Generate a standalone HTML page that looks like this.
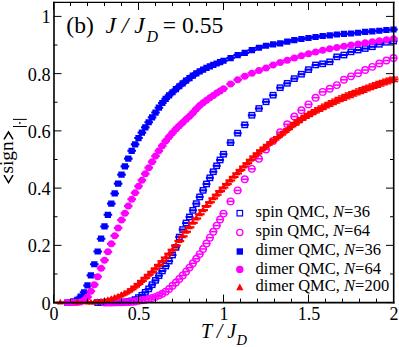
<!DOCTYPE html>
<html><head><meta charset="utf-8"><title>chart</title>
<style>html,body{margin:0;padding:0;background:#fff}svg{display:block}text{font-family:"Liberation Serif",serif;fill:#000}</style>
</head><body>
<svg width="399" height="347" viewBox="0 0 399 347">
<rect width="399" height="347" fill="#fff"/>
<g><rect x="94.95" y="299.93" width="5.5" height="5.3" fill="none" stroke="#0000ff" stroke-width="1.4"/><rect x="93.70" y="301.53" width="8" height="2.10" fill="#0000ff"/><rect x="98.35" y="299.91" width="5.5" height="5.3" fill="none" stroke="#0000ff" stroke-width="1.4"/><rect x="97.10" y="301.51" width="8" height="2.10" fill="#0000ff"/><rect x="101.75" y="299.89" width="5.5" height="5.3" fill="none" stroke="#0000ff" stroke-width="1.4"/><rect x="100.50" y="301.49" width="8" height="2.10" fill="#0000ff"/><rect x="105.15" y="299.86" width="5.5" height="5.3" fill="none" stroke="#0000ff" stroke-width="1.4"/><rect x="103.90" y="301.46" width="8" height="2.10" fill="#0000ff"/><rect x="108.55" y="299.82" width="5.5" height="5.3" fill="none" stroke="#0000ff" stroke-width="1.4"/><rect x="107.30" y="301.42" width="8" height="2.10" fill="#0000ff"/><rect x="111.95" y="299.78" width="5.5" height="5.3" fill="none" stroke="#0000ff" stroke-width="1.4"/><rect x="110.70" y="301.38" width="8" height="2.10" fill="#0000ff"/><rect x="115.35" y="299.72" width="5.5" height="5.3" fill="none" stroke="#0000ff" stroke-width="1.4"/><rect x="114.10" y="301.32" width="8" height="2.10" fill="#0000ff"/><rect x="118.75" y="299.66" width="5.5" height="5.3" fill="none" stroke="#0000ff" stroke-width="1.4"/><rect x="117.50" y="301.26" width="8" height="2.10" fill="#0000ff"/><rect x="122.15" y="299.43" width="5.5" height="5.3" fill="none" stroke="#0000ff" stroke-width="1.4"/><rect x="120.90" y="301.03" width="8" height="2.10" fill="#0000ff"/><rect x="125.55" y="298.93" width="5.5" height="5.3" fill="none" stroke="#0000ff" stroke-width="1.4"/><rect x="124.30" y="300.53" width="8" height="2.10" fill="#0000ff"/><rect x="128.95" y="298.23" width="5.5" height="5.3" fill="none" stroke="#0000ff" stroke-width="1.4"/><rect x="127.70" y="299.83" width="8" height="2.10" fill="#0000ff"/><rect x="132.35" y="296.94" width="5.5" height="5.3" fill="none" stroke="#0000ff" stroke-width="1.4"/><rect x="131.10" y="298.54" width="8" height="2.10" fill="#0000ff"/><rect x="135.75" y="294.92" width="5.5" height="5.3" fill="none" stroke="#0000ff" stroke-width="1.4"/><rect x="134.50" y="296.52" width="8" height="2.10" fill="#0000ff"/><rect x="139.15" y="292.61" width="5.5" height="5.3" fill="none" stroke="#0000ff" stroke-width="1.4"/><rect x="137.90" y="294.21" width="8" height="2.10" fill="#0000ff"/><rect x="142.55" y="289.70" width="5.5" height="5.3" fill="none" stroke="#0000ff" stroke-width="1.4"/><rect x="141.30" y="291.30" width="8" height="2.10" fill="#0000ff"/><rect x="145.95" y="286.21" width="5.5" height="5.3" fill="none" stroke="#0000ff" stroke-width="1.4"/><rect x="144.70" y="287.81" width="8" height="2.10" fill="#0000ff"/><rect x="149.35" y="282.07" width="5.5" height="5.3" fill="none" stroke="#0000ff" stroke-width="1.4"/><rect x="148.10" y="283.67" width="8" height="2.10" fill="#0000ff"/><rect x="152.75" y="277.70" width="5.5" height="5.3" fill="none" stroke="#0000ff" stroke-width="1.4"/><rect x="151.50" y="279.30" width="8" height="2.10" fill="#0000ff"/><rect x="156.15" y="273.07" width="5.5" height="5.3" fill="none" stroke="#0000ff" stroke-width="1.4"/><rect x="154.90" y="274.67" width="8" height="2.10" fill="#0000ff"/><rect x="159.55" y="268.30" width="5.5" height="5.3" fill="none" stroke="#0000ff" stroke-width="1.4"/><rect x="158.30" y="269.90" width="8" height="2.10" fill="#0000ff"/><rect x="162.95" y="263.41" width="5.5" height="5.3" fill="none" stroke="#0000ff" stroke-width="1.4"/><rect x="161.70" y="265.01" width="8" height="2.10" fill="#0000ff"/><rect x="166.35" y="258.43" width="5.5" height="5.3" fill="none" stroke="#0000ff" stroke-width="1.4"/><rect x="165.10" y="260.03" width="8" height="2.10" fill="#0000ff"/><rect x="169.75" y="252.41" width="5.5" height="5.3" fill="none" stroke="#0000ff" stroke-width="1.4"/><rect x="168.50" y="254.01" width="8" height="2.10" fill="#0000ff"/><rect x="173.15" y="244.71" width="5.5" height="5.3" fill="none" stroke="#0000ff" stroke-width="1.4"/><rect x="171.90" y="246.31" width="8" height="2.10" fill="#0000ff"/><rect x="176.55" y="234.40" width="5.5" height="5.3" fill="none" stroke="#0000ff" stroke-width="1.4"/><rect x="175.30" y="236.00" width="8" height="2.10" fill="#0000ff"/><rect x="179.95" y="226.92" width="5.5" height="5.3" fill="none" stroke="#0000ff" stroke-width="1.4"/><rect x="178.70" y="228.52" width="8" height="2.10" fill="#0000ff"/><rect x="183.35" y="220.35" width="5.5" height="5.3" fill="none" stroke="#0000ff" stroke-width="1.4"/><rect x="182.10" y="221.95" width="8" height="2.10" fill="#0000ff"/><rect x="186.75" y="214.27" width="5.5" height="5.3" fill="none" stroke="#0000ff" stroke-width="1.4"/><rect x="185.50" y="215.87" width="8" height="2.10" fill="#0000ff"/><rect x="190.15" y="207.70" width="5.5" height="5.3" fill="none" stroke="#0000ff" stroke-width="1.4"/><rect x="188.90" y="209.30" width="8" height="2.10" fill="#0000ff"/><rect x="193.55" y="200.99" width="5.5" height="5.3" fill="none" stroke="#0000ff" stroke-width="1.4"/><rect x="192.30" y="202.59" width="8" height="2.10" fill="#0000ff"/><rect x="196.95" y="194.27" width="5.5" height="5.3" fill="none" stroke="#0000ff" stroke-width="1.4"/><rect x="195.70" y="195.87" width="8" height="2.10" fill="#0000ff"/><rect x="200.35" y="187.69" width="5.5" height="5.3" fill="none" stroke="#0000ff" stroke-width="1.4"/><rect x="199.10" y="189.29" width="8" height="2.10" fill="#0000ff"/><rect x="203.75" y="181.34" width="5.5" height="5.3" fill="none" stroke="#0000ff" stroke-width="1.4"/><rect x="202.50" y="182.94" width="8" height="2.10" fill="#0000ff"/><rect x="207.15" y="175.17" width="5.5" height="5.3" fill="none" stroke="#0000ff" stroke-width="1.4"/><rect x="205.90" y="176.77" width="8" height="2.10" fill="#0000ff"/><rect x="210.55" y="169.10" width="5.5" height="5.3" fill="none" stroke="#0000ff" stroke-width="1.4"/><rect x="209.30" y="170.70" width="8" height="2.10" fill="#0000ff"/><rect x="213.95" y="163.15" width="5.5" height="5.3" fill="none" stroke="#0000ff" stroke-width="1.4"/><rect x="212.70" y="164.75" width="8" height="2.10" fill="#0000ff"/><rect x="217.35" y="157.29" width="5.5" height="5.3" fill="none" stroke="#0000ff" stroke-width="1.4"/><rect x="216.10" y="158.89" width="8" height="2.10" fill="#0000ff"/><rect x="220.75" y="151.56" width="5.5" height="5.3" fill="none" stroke="#0000ff" stroke-width="1.4"/><rect x="219.50" y="153.16" width="8" height="2.10" fill="#0000ff"/><rect x="227.83" y="139.97" width="5.5" height="5.3" fill="none" stroke="#0000ff" stroke-width="1.4"/><rect x="226.58" y="141.57" width="8" height="2.10" fill="#0000ff"/><rect x="234.92" y="130.51" width="5.5" height="5.3" fill="none" stroke="#0000ff" stroke-width="1.4"/><rect x="233.67" y="132.11" width="8" height="2.10" fill="#0000ff"/><rect x="242.00" y="122.22" width="5.5" height="5.3" fill="none" stroke="#0000ff" stroke-width="1.4"/><rect x="240.75" y="123.82" width="8" height="2.10" fill="#0000ff"/><rect x="249.08" y="112.61" width="5.5" height="5.3" fill="none" stroke="#0000ff" stroke-width="1.4"/><rect x="247.83" y="114.21" width="8" height="2.10" fill="#0000ff"/><rect x="256.17" y="105.82" width="5.5" height="5.3" fill="none" stroke="#0000ff" stroke-width="1.4"/><rect x="254.92" y="107.42" width="8" height="2.10" fill="#0000ff"/><rect x="263.25" y="99.12" width="5.5" height="5.3" fill="none" stroke="#0000ff" stroke-width="1.4"/><rect x="262.00" y="100.72" width="8" height="2.10" fill="#0000ff"/><rect x="270.33" y="92.55" width="5.5" height="5.3" fill="none" stroke="#0000ff" stroke-width="1.4"/><rect x="269.08" y="94.15" width="8" height="2.10" fill="#0000ff"/><rect x="277.42" y="85.04" width="5.5" height="5.3" fill="none" stroke="#0000ff" stroke-width="1.4"/><rect x="276.17" y="86.64" width="8" height="2.10" fill="#0000ff"/><rect x="284.50" y="80.66" width="5.5" height="5.3" fill="none" stroke="#0000ff" stroke-width="1.4"/><rect x="283.25" y="82.26" width="8" height="2.10" fill="#0000ff"/><rect x="291.58" y="75.97" width="5.5" height="5.3" fill="none" stroke="#0000ff" stroke-width="1.4"/><rect x="290.33" y="77.57" width="8" height="2.10" fill="#0000ff"/><rect x="298.67" y="71.56" width="5.5" height="5.3" fill="none" stroke="#0000ff" stroke-width="1.4"/><rect x="297.42" y="73.16" width="8" height="2.10" fill="#0000ff"/><rect x="305.75" y="66.98" width="5.5" height="5.3" fill="none" stroke="#0000ff" stroke-width="1.4"/><rect x="304.50" y="68.58" width="8" height="2.10" fill="#0000ff"/><rect x="312.83" y="62.29" width="5.5" height="5.3" fill="none" stroke="#0000ff" stroke-width="1.4"/><rect x="311.58" y="63.89" width="8" height="2.10" fill="#0000ff"/><rect x="319.92" y="61.17" width="5.5" height="5.3" fill="none" stroke="#0000ff" stroke-width="1.4"/><rect x="318.67" y="62.77" width="8" height="2.10" fill="#0000ff"/><rect x="327.00" y="59.20" width="5.5" height="5.3" fill="none" stroke="#0000ff" stroke-width="1.4"/><rect x="325.75" y="60.80" width="8" height="2.10" fill="#0000ff"/><rect x="334.08" y="54.19" width="5.5" height="5.3" fill="none" stroke="#0000ff" stroke-width="1.4"/><rect x="332.83" y="55.79" width="8" height="2.10" fill="#0000ff"/><rect x="341.17" y="52.39" width="5.5" height="5.3" fill="none" stroke="#0000ff" stroke-width="1.4"/><rect x="339.92" y="53.99" width="8" height="2.10" fill="#0000ff"/><rect x="348.25" y="49.21" width="5.5" height="5.3" fill="none" stroke="#0000ff" stroke-width="1.4"/><rect x="347.00" y="50.81" width="8" height="2.10" fill="#0000ff"/><rect x="355.33" y="47.41" width="5.5" height="5.3" fill="none" stroke="#0000ff" stroke-width="1.4"/><rect x="354.08" y="49.01" width="8" height="2.10" fill="#0000ff"/><rect x="362.42" y="45.92" width="5.5" height="5.3" fill="none" stroke="#0000ff" stroke-width="1.4"/><rect x="361.17" y="47.52" width="8" height="2.10" fill="#0000ff"/><rect x="369.50" y="44.12" width="5.5" height="5.3" fill="none" stroke="#0000ff" stroke-width="1.4"/><rect x="368.25" y="45.72" width="8" height="2.10" fill="#0000ff"/><rect x="376.58" y="41.63" width="5.5" height="5.3" fill="none" stroke="#0000ff" stroke-width="1.4"/><rect x="375.33" y="43.23" width="8" height="2.10" fill="#0000ff"/><rect x="383.67" y="39.62" width="5.5" height="5.3" fill="none" stroke="#0000ff" stroke-width="1.4"/><rect x="382.42" y="41.22" width="8" height="2.10" fill="#0000ff"/><rect x="390.75" y="38.42" width="5.5" height="5.3" fill="none" stroke="#0000ff" stroke-width="1.4"/><rect x="389.50" y="40.02" width="8" height="2.10" fill="#0000ff"/><circle cx="104.50" cy="302.52" r="3.25" fill="none" stroke="#ff00ff" stroke-width="1.4"/><rect x="100.50" y="301.72" width="8" height="1.60" fill="#ff00ff"/><circle cx="107.90" cy="302.48" r="3.25" fill="none" stroke="#ff00ff" stroke-width="1.4"/><rect x="103.90" y="301.68" width="8" height="1.60" fill="#ff00ff"/><circle cx="111.30" cy="302.44" r="3.25" fill="none" stroke="#ff00ff" stroke-width="1.4"/><rect x="107.30" y="301.64" width="8" height="1.60" fill="#ff00ff"/><circle cx="114.70" cy="302.38" r="3.25" fill="none" stroke="#ff00ff" stroke-width="1.4"/><rect x="110.70" y="301.58" width="8" height="1.60" fill="#ff00ff"/><circle cx="118.10" cy="302.32" r="3.25" fill="none" stroke="#ff00ff" stroke-width="1.4"/><rect x="114.10" y="301.52" width="8" height="1.60" fill="#ff00ff"/><circle cx="121.50" cy="302.25" r="3.25" fill="none" stroke="#ff00ff" stroke-width="1.4"/><rect x="117.50" y="301.45" width="8" height="1.60" fill="#ff00ff"/><circle cx="124.90" cy="302.17" r="3.25" fill="none" stroke="#ff00ff" stroke-width="1.4"/><rect x="120.90" y="301.37" width="8" height="1.60" fill="#ff00ff"/><circle cx="128.30" cy="302.08" r="3.25" fill="none" stroke="#ff00ff" stroke-width="1.4"/><rect x="124.30" y="301.28" width="8" height="1.60" fill="#ff00ff"/><circle cx="131.70" cy="301.92" r="3.25" fill="none" stroke="#ff00ff" stroke-width="1.4"/><rect x="127.70" y="301.12" width="8" height="1.60" fill="#ff00ff"/><circle cx="135.10" cy="301.44" r="3.25" fill="none" stroke="#ff00ff" stroke-width="1.4"/><rect x="131.10" y="300.64" width="8" height="1.60" fill="#ff00ff"/><circle cx="138.50" cy="300.82" r="3.25" fill="none" stroke="#ff00ff" stroke-width="1.4"/><rect x="134.50" y="300.02" width="8" height="1.60" fill="#ff00ff"/><circle cx="141.90" cy="300.29" r="3.25" fill="none" stroke="#ff00ff" stroke-width="1.4"/><rect x="137.90" y="299.49" width="8" height="1.60" fill="#ff00ff"/><circle cx="145.30" cy="299.70" r="3.25" fill="none" stroke="#ff00ff" stroke-width="1.4"/><rect x="141.30" y="298.90" width="8" height="1.60" fill="#ff00ff"/><circle cx="148.70" cy="298.95" r="3.25" fill="none" stroke="#ff00ff" stroke-width="1.4"/><rect x="144.70" y="298.15" width="8" height="1.60" fill="#ff00ff"/><circle cx="152.10" cy="298.02" r="3.25" fill="none" stroke="#ff00ff" stroke-width="1.4"/><rect x="148.10" y="297.22" width="8" height="1.60" fill="#ff00ff"/><circle cx="155.50" cy="296.84" r="3.25" fill="none" stroke="#ff00ff" stroke-width="1.4"/><rect x="151.50" y="296.04" width="8" height="1.60" fill="#ff00ff"/><circle cx="158.90" cy="295.41" r="3.25" fill="none" stroke="#ff00ff" stroke-width="1.4"/><rect x="154.90" y="294.61" width="8" height="1.60" fill="#ff00ff"/><circle cx="162.30" cy="293.72" r="3.25" fill="none" stroke="#ff00ff" stroke-width="1.4"/><rect x="158.30" y="292.92" width="8" height="1.60" fill="#ff00ff"/><circle cx="165.70" cy="291.67" r="3.25" fill="none" stroke="#ff00ff" stroke-width="1.4"/><rect x="161.70" y="290.87" width="8" height="1.60" fill="#ff00ff"/><circle cx="169.10" cy="289.00" r="3.25" fill="none" stroke="#ff00ff" stroke-width="1.4"/><rect x="165.10" y="288.20" width="8" height="1.60" fill="#ff00ff"/><circle cx="172.50" cy="285.79" r="3.25" fill="none" stroke="#ff00ff" stroke-width="1.4"/><rect x="168.50" y="284.99" width="8" height="1.60" fill="#ff00ff"/><circle cx="175.90" cy="282.50" r="3.25" fill="none" stroke="#ff00ff" stroke-width="1.4"/><rect x="171.90" y="281.70" width="8" height="1.60" fill="#ff00ff"/><circle cx="179.30" cy="279.02" r="3.25" fill="none" stroke="#ff00ff" stroke-width="1.4"/><rect x="175.30" y="278.22" width="8" height="1.60" fill="#ff00ff"/><circle cx="182.70" cy="275.42" r="3.25" fill="none" stroke="#ff00ff" stroke-width="1.4"/><rect x="178.70" y="274.62" width="8" height="1.60" fill="#ff00ff"/><circle cx="186.10" cy="271.64" r="3.25" fill="none" stroke="#ff00ff" stroke-width="1.4"/><rect x="182.10" y="270.84" width="8" height="1.60" fill="#ff00ff"/><circle cx="189.50" cy="267.59" r="3.25" fill="none" stroke="#ff00ff" stroke-width="1.4"/><rect x="185.50" y="266.79" width="8" height="1.60" fill="#ff00ff"/><circle cx="192.90" cy="263.26" r="3.25" fill="none" stroke="#ff00ff" stroke-width="1.4"/><rect x="188.90" y="262.46" width="8" height="1.60" fill="#ff00ff"/><circle cx="196.30" cy="258.77" r="3.25" fill="none" stroke="#ff00ff" stroke-width="1.4"/><rect x="192.30" y="257.97" width="8" height="1.60" fill="#ff00ff"/><circle cx="199.70" cy="254.10" r="3.25" fill="none" stroke="#ff00ff" stroke-width="1.4"/><rect x="195.70" y="253.30" width="8" height="1.60" fill="#ff00ff"/><circle cx="203.10" cy="248.98" r="3.25" fill="none" stroke="#ff00ff" stroke-width="1.4"/><rect x="199.10" y="248.18" width="8" height="1.60" fill="#ff00ff"/><circle cx="206.50" cy="243.47" r="3.25" fill="none" stroke="#ff00ff" stroke-width="1.4"/><rect x="202.50" y="242.67" width="8" height="1.60" fill="#ff00ff"/><circle cx="209.90" cy="237.67" r="3.25" fill="none" stroke="#ff00ff" stroke-width="1.4"/><rect x="205.90" y="236.87" width="8" height="1.60" fill="#ff00ff"/><circle cx="213.30" cy="231.68" r="3.25" fill="none" stroke="#ff00ff" stroke-width="1.4"/><rect x="209.30" y="230.88" width="8" height="1.60" fill="#ff00ff"/><circle cx="216.70" cy="225.60" r="3.25" fill="none" stroke="#ff00ff" stroke-width="1.4"/><rect x="212.70" y="224.80" width="8" height="1.60" fill="#ff00ff"/><circle cx="220.10" cy="219.54" r="3.25" fill="none" stroke="#ff00ff" stroke-width="1.4"/><rect x="216.10" y="218.74" width="8" height="1.60" fill="#ff00ff"/><circle cx="223.50" cy="213.59" r="3.25" fill="none" stroke="#ff00ff" stroke-width="1.4"/><rect x="219.50" y="212.79" width="8" height="1.60" fill="#ff00ff"/><circle cx="230.58" cy="201.38" r="3.25" fill="none" stroke="#ff00ff" stroke-width="1.4"/><rect x="226.58" y="200.58" width="8" height="1.60" fill="#ff00ff"/><circle cx="237.67" cy="190.40" r="3.25" fill="none" stroke="#ff00ff" stroke-width="1.4"/><rect x="233.67" y="189.60" width="8" height="1.60" fill="#ff00ff"/><circle cx="244.75" cy="179.25" r="3.25" fill="none" stroke="#ff00ff" stroke-width="1.4"/><rect x="240.75" y="178.45" width="8" height="1.60" fill="#ff00ff"/><circle cx="251.83" cy="168.85" r="3.25" fill="none" stroke="#ff00ff" stroke-width="1.4"/><rect x="247.83" y="168.05" width="8" height="1.60" fill="#ff00ff"/><circle cx="258.92" cy="158.80" r="3.25" fill="none" stroke="#ff00ff" stroke-width="1.4"/><rect x="254.92" y="158.00" width="8" height="1.60" fill="#ff00ff"/><circle cx="266.00" cy="149.48" r="3.25" fill="none" stroke="#ff00ff" stroke-width="1.4"/><rect x="262.00" y="148.68" width="8" height="1.60" fill="#ff00ff"/><circle cx="273.08" cy="140.90" r="3.25" fill="none" stroke="#ff00ff" stroke-width="1.4"/><rect x="269.08" y="140.10" width="8" height="1.60" fill="#ff00ff"/><circle cx="280.17" cy="132.30" r="3.25" fill="none" stroke="#ff00ff" stroke-width="1.4"/><rect x="276.17" y="131.50" width="8" height="1.60" fill="#ff00ff"/><circle cx="287.25" cy="124.30" r="3.25" fill="none" stroke="#ff00ff" stroke-width="1.4"/><rect x="283.25" y="123.50" width="8" height="1.60" fill="#ff00ff"/><circle cx="294.33" cy="116.46" r="3.25" fill="none" stroke="#ff00ff" stroke-width="1.4"/><rect x="290.33" y="115.66" width="8" height="1.60" fill="#ff00ff"/><circle cx="301.42" cy="110.27" r="3.25" fill="none" stroke="#ff00ff" stroke-width="1.4"/><rect x="297.42" y="109.47" width="8" height="1.60" fill="#ff00ff"/><circle cx="308.50" cy="104.38" r="3.25" fill="none" stroke="#ff00ff" stroke-width="1.4"/><rect x="304.50" y="103.58" width="8" height="1.60" fill="#ff00ff"/><circle cx="315.58" cy="97.69" r="3.25" fill="none" stroke="#ff00ff" stroke-width="1.4"/><rect x="311.58" y="96.89" width="8" height="1.60" fill="#ff00ff"/><circle cx="322.67" cy="91.90" r="3.25" fill="none" stroke="#ff00ff" stroke-width="1.4"/><rect x="318.67" y="91.10" width="8" height="1.60" fill="#ff00ff"/><circle cx="329.75" cy="88.81" r="3.25" fill="none" stroke="#ff00ff" stroke-width="1.4"/><rect x="325.75" y="88.01" width="8" height="1.60" fill="#ff00ff"/><circle cx="336.83" cy="85.09" r="3.25" fill="none" stroke="#ff00ff" stroke-width="1.4"/><rect x="332.83" y="84.29" width="8" height="1.60" fill="#ff00ff"/><circle cx="343.92" cy="79.82" r="3.25" fill="none" stroke="#ff00ff" stroke-width="1.4"/><rect x="339.92" y="79.02" width="8" height="1.60" fill="#ff00ff"/><circle cx="351.00" cy="76.33" r="3.25" fill="none" stroke="#ff00ff" stroke-width="1.4"/><rect x="347.00" y="75.53" width="8" height="1.60" fill="#ff00ff"/><circle cx="358.08" cy="73.13" r="3.25" fill="none" stroke="#ff00ff" stroke-width="1.4"/><rect x="354.08" y="72.33" width="8" height="1.60" fill="#ff00ff"/><circle cx="365.17" cy="70.03" r="3.25" fill="none" stroke="#ff00ff" stroke-width="1.4"/><rect x="361.17" y="69.23" width="8" height="1.60" fill="#ff00ff"/><circle cx="372.25" cy="66.83" r="3.25" fill="none" stroke="#ff00ff" stroke-width="1.4"/><rect x="368.25" y="66.03" width="8" height="1.60" fill="#ff00ff"/><circle cx="379.33" cy="63.54" r="3.25" fill="none" stroke="#ff00ff" stroke-width="1.4"/><rect x="375.33" y="62.74" width="8" height="1.60" fill="#ff00ff"/><circle cx="386.42" cy="60.53" r="3.25" fill="none" stroke="#ff00ff" stroke-width="1.4"/><rect x="382.42" y="59.73" width="8" height="1.60" fill="#ff00ff"/><circle cx="393.50" cy="58.04" r="3.25" fill="none" stroke="#ff00ff" stroke-width="1.4"/><rect x="389.50" y="57.24" width="8" height="1.60" fill="#ff00ff"/><path fill="#0000ff" d="M63.95 299.50h6.3v2.05h1.15v2.1h-1.15v2.05h-6.3v-2.05h-1.15v-2.1h1.15z"/><path fill="#0000ff" d="M67.35 299.21h6.3v2.05h1.15v2.1h-1.15v2.05h-6.3v-2.05h-1.15v-2.1h1.15z"/><path fill="#0000ff" d="M70.75 298.36h6.3v2.05h1.15v2.1h-1.15v2.05h-6.3v-2.05h-1.15v-2.1h1.15z"/><path fill="#0000ff" d="M74.15 296.64h6.3v2.05h1.15v2.1h-1.15v2.05h-6.3v-2.05h-1.15v-2.1h1.15z"/><path fill="#0000ff" d="M77.55 293.49h6.3v2.05h1.15v2.1h-1.15v2.05h-6.3v-2.05h-1.15v-2.1h1.15z"/><path fill="#0000ff" d="M80.95 289.20h6.3v2.05h1.15v2.1h-1.15v2.05h-6.3v-2.05h-1.15v-2.1h1.15z"/><path fill="#0000ff" d="M84.35 282.33h6.3v2.05h1.15v2.1h-1.15v2.05h-6.3v-2.05h-1.15v-2.1h1.15z"/><path fill="#0000ff" d="M87.75 272.31h6.3v2.05h1.15v2.1h-1.15v2.05h-6.3v-2.05h-1.15v-2.1h1.15z"/><path fill="#0000ff" d="M91.15 261.15h6.3v2.05h1.15v2.1h-1.15v2.05h-6.3v-2.05h-1.15v-2.1h1.15z"/><path fill="#0000ff" d="M94.55 248.38h6.3v2.05h1.15v2.1h-1.15v2.05h-6.3v-2.05h-1.15v-2.1h1.15z"/><path fill="#0000ff" d="M97.95 235.59h6.3v2.05h1.15v2.1h-1.15v2.05h-6.3v-2.05h-1.15v-2.1h1.15z"/><path fill="#0000ff" d="M101.35 223.37h6.3v2.05h1.15v2.1h-1.15v2.05h-6.3v-2.05h-1.15v-2.1h1.15z"/><path fill="#0000ff" d="M104.75 211.72h6.3v2.05h1.15v2.1h-1.15v2.05h-6.3v-2.05h-1.15v-2.1h1.15z"/><path fill="#0000ff" d="M108.15 200.53h6.3v2.05h1.15v2.1h-1.15v2.05h-6.3v-2.05h-1.15v-2.1h1.15z"/><path fill="#0000ff" d="M111.55 190.34h6.3v2.05h1.15v2.1h-1.15v2.05h-6.3v-2.05h-1.15v-2.1h1.15z"/><path fill="#0000ff" d="M114.95 180.56h6.3v2.05h1.15v2.1h-1.15v2.05h-6.3v-2.05h-1.15v-2.1h1.15z"/><path fill="#0000ff" d="M118.35 171.48h6.3v2.05h1.15v2.1h-1.15v2.05h-6.3v-2.05h-1.15v-2.1h1.15z"/><path fill="#0000ff" d="M121.75 163.27h6.3v2.05h1.15v2.1h-1.15v2.05h-6.3v-2.05h-1.15v-2.1h1.15z"/><path fill="#0000ff" d="M125.15 155.51h6.3v2.05h1.15v2.1h-1.15v2.05h-6.3v-2.05h-1.15v-2.1h1.15z"/><path fill="#0000ff" d="M128.55 147.70h6.3v2.05h1.15v2.1h-1.15v2.05h-6.3v-2.05h-1.15v-2.1h1.15z"/><path fill="#0000ff" d="M131.95 141.23h6.3v2.05h1.15v2.1h-1.15v2.05h-6.3v-2.05h-1.15v-2.1h1.15z"/><path fill="#0000ff" d="M135.35 134.94h6.3v2.05h1.15v2.1h-1.15v2.05h-6.3v-2.05h-1.15v-2.1h1.15z"/><path fill="#0000ff" d="M138.75 129.53h6.3v2.05h1.15v2.1h-1.15v2.05h-6.3v-2.05h-1.15v-2.1h1.15z"/><path fill="#0000ff" d="M142.15 124.23h6.3v2.05h1.15v2.1h-1.15v2.05h-6.3v-2.05h-1.15v-2.1h1.15z"/><path fill="#0000ff" d="M145.55 119.17h6.3v2.05h1.15v2.1h-1.15v2.05h-6.3v-2.05h-1.15v-2.1h1.15z"/><path fill="#0000ff" d="M148.95 114.27h6.3v2.05h1.15v2.1h-1.15v2.05h-6.3v-2.05h-1.15v-2.1h1.15z"/><path fill="#0000ff" d="M152.35 109.46h6.3v2.05h1.15v2.1h-1.15v2.05h-6.3v-2.05h-1.15v-2.1h1.15z"/><path fill="#0000ff" d="M155.75 104.61h6.3v2.05h1.15v2.1h-1.15v2.05h-6.3v-2.05h-1.15v-2.1h1.15z"/><path fill="#0000ff" d="M159.15 99.88h6.3v2.05h1.15v2.1h-1.15v2.05h-6.3v-2.05h-1.15v-2.1h1.15z"/><path fill="#0000ff" d="M162.55 95.78h6.3v2.05h1.15v2.1h-1.15v2.05h-6.3v-2.05h-1.15v-2.1h1.15z"/><path fill="#0000ff" d="M165.95 92.31h6.3v2.05h1.15v2.1h-1.15v2.05h-6.3v-2.05h-1.15v-2.1h1.15z"/><path fill="#0000ff" d="M169.35 89.16h6.3v2.05h1.15v2.1h-1.15v2.05h-6.3v-2.05h-1.15v-2.1h1.15z"/><path fill="#0000ff" d="M172.75 86.11h6.3v2.05h1.15v2.1h-1.15v2.05h-6.3v-2.05h-1.15v-2.1h1.15z"/><path fill="#0000ff" d="M176.15 83.13h6.3v2.05h1.15v2.1h-1.15v2.05h-6.3v-2.05h-1.15v-2.1h1.15z"/><path fill="#0000ff" d="M179.55 80.27h6.3v2.05h1.15v2.1h-1.15v2.05h-6.3v-2.05h-1.15v-2.1h1.15z"/><path fill="#0000ff" d="M182.95 77.56h6.3v2.05h1.15v2.1h-1.15v2.05h-6.3v-2.05h-1.15v-2.1h1.15z"/><path fill="#0000ff" d="M186.35 74.96h6.3v2.05h1.15v2.1h-1.15v2.05h-6.3v-2.05h-1.15v-2.1h1.15z"/><path fill="#0000ff" d="M189.75 72.49h6.3v2.05h1.15v2.1h-1.15v2.05h-6.3v-2.05h-1.15v-2.1h1.15z"/><path fill="#0000ff" d="M193.15 70.25h6.3v2.05h1.15v2.1h-1.15v2.05h-6.3v-2.05h-1.15v-2.1h1.15z"/><path fill="#0000ff" d="M196.55 68.28h6.3v2.05h1.15v2.1h-1.15v2.05h-6.3v-2.05h-1.15v-2.1h1.15z"/><path fill="#0000ff" d="M199.95 66.48h6.3v2.05h1.15v2.1h-1.15v2.05h-6.3v-2.05h-1.15v-2.1h1.15z"/><path fill="#0000ff" d="M203.35 64.82h6.3v2.05h1.15v2.1h-1.15v2.05h-6.3v-2.05h-1.15v-2.1h1.15z"/><path fill="#0000ff" d="M206.75 63.26h6.3v2.05h1.15v2.1h-1.15v2.05h-6.3v-2.05h-1.15v-2.1h1.15z"/><path fill="#0000ff" d="M210.15 61.79h6.3v2.05h1.15v2.1h-1.15v2.05h-6.3v-2.05h-1.15v-2.1h1.15z"/><path fill="#0000ff" d="M213.55 60.38h6.3v2.05h1.15v2.1h-1.15v2.05h-6.3v-2.05h-1.15v-2.1h1.15z"/><path fill="#0000ff" d="M216.95 59.01h6.3v2.05h1.15v2.1h-1.15v2.05h-6.3v-2.05h-1.15v-2.1h1.15z"/><path fill="#0000ff" d="M220.35 57.66h6.3v2.05h1.15v2.1h-1.15v2.05h-6.3v-2.05h-1.15v-2.1h1.15z"/><path fill="#0000ff" d="M227.43 54.94h6.3v2.05h1.15v2.1h-1.15v2.05h-6.3v-2.05h-1.15v-2.1h1.15z"/><path fill="#0000ff" d="M234.52 52.03h6.3v2.05h1.15v2.1h-1.15v2.05h-6.3v-2.05h-1.15v-2.1h1.15z"/><path fill="#0000ff" d="M241.60 49.85h6.3v2.05h1.15v2.1h-1.15v2.05h-6.3v-2.05h-1.15v-2.1h1.15z"/><path fill="#0000ff" d="M248.68 47.09h6.3v2.05h1.15v2.1h-1.15v2.05h-6.3v-2.05h-1.15v-2.1h1.15z"/><path fill="#0000ff" d="M255.77 44.64h6.3v2.05h1.15v2.1h-1.15v2.05h-6.3v-2.05h-1.15v-2.1h1.15z"/><path fill="#0000ff" d="M262.85 42.64h6.3v2.05h1.15v2.1h-1.15v2.05h-6.3v-2.05h-1.15v-2.1h1.15z"/><path fill="#0000ff" d="M269.93 41.35h6.3v2.05h1.15v2.1h-1.15v2.05h-6.3v-2.05h-1.15v-2.1h1.15z"/><path fill="#0000ff" d="M277.02 40.19h6.3v2.05h1.15v2.1h-1.15v2.05h-6.3v-2.05h-1.15v-2.1h1.15z"/><path fill="#0000ff" d="M284.10 38.60h6.3v2.05h1.15v2.1h-1.15v2.05h-6.3v-2.05h-1.15v-2.1h1.15z"/><path fill="#0000ff" d="M291.18 37.06h6.3v2.05h1.15v2.1h-1.15v2.05h-6.3v-2.05h-1.15v-2.1h1.15z"/><path fill="#0000ff" d="M298.27 35.88h6.3v2.05h1.15v2.1h-1.15v2.05h-6.3v-2.05h-1.15v-2.1h1.15z"/><path fill="#0000ff" d="M305.35 34.88h6.3v2.05h1.15v2.1h-1.15v2.05h-6.3v-2.05h-1.15v-2.1h1.15z"/><path fill="#0000ff" d="M312.43 33.88h6.3v2.05h1.15v2.1h-1.15v2.05h-6.3v-2.05h-1.15v-2.1h1.15z"/><path fill="#0000ff" d="M319.52 32.88h6.3v2.05h1.15v2.1h-1.15v2.05h-6.3v-2.05h-1.15v-2.1h1.15z"/><path fill="#0000ff" d="M326.60 32.19h6.3v2.05h1.15v2.1h-1.15v2.05h-6.3v-2.05h-1.15v-2.1h1.15z"/><path fill="#0000ff" d="M333.68 31.39h6.3v2.05h1.15v2.1h-1.15v2.05h-6.3v-2.05h-1.15v-2.1h1.15z"/><path fill="#0000ff" d="M340.77 30.87h6.3v2.05h1.15v2.1h-1.15v2.05h-6.3v-2.05h-1.15v-2.1h1.15z"/><path fill="#0000ff" d="M347.85 30.39h6.3v2.05h1.15v2.1h-1.15v2.05h-6.3v-2.05h-1.15v-2.1h1.15z"/><path fill="#0000ff" d="M354.93 29.67h6.3v2.05h1.15v2.1h-1.15v2.05h-6.3v-2.05h-1.15v-2.1h1.15z"/><path fill="#0000ff" d="M362.02 28.87h6.3v2.05h1.15v2.1h-1.15v2.05h-6.3v-2.05h-1.15v-2.1h1.15z"/><path fill="#0000ff" d="M369.10 28.18h6.3v2.05h1.15v2.1h-1.15v2.05h-6.3v-2.05h-1.15v-2.1h1.15z"/><path fill="#0000ff" d="M376.18 27.64h6.3v2.05h1.15v2.1h-1.15v2.05h-6.3v-2.05h-1.15v-2.1h1.15z"/><path fill="#0000ff" d="M383.27 26.89h6.3v2.05h1.15v2.1h-1.15v2.05h-6.3v-2.05h-1.15v-2.1h1.15z"/><path fill="#0000ff" d="M390.35 26.38h6.3v2.05h1.15v2.1h-1.15v2.05h-6.3v-2.05h-1.15v-2.1h1.15z"/><circle cx="67.10" cy="302.60" r="3.5" fill="#ff00ff"/><rect x="62.80" y="301.50" width="8.6" height="2.2" fill="#ff00ff"/><circle cx="70.50" cy="302.60" r="3.5" fill="#ff00ff"/><rect x="66.20" y="301.50" width="8.6" height="2.2" fill="#ff00ff"/><circle cx="73.90" cy="302.60" r="3.5" fill="#ff00ff"/><rect x="69.60" y="301.50" width="8.6" height="2.2" fill="#ff00ff"/><circle cx="77.30" cy="302.45" r="3.5" fill="#ff00ff"/><rect x="73.00" y="301.35" width="8.6" height="2.2" fill="#ff00ff"/><circle cx="80.70" cy="302.03" r="3.5" fill="#ff00ff"/><rect x="76.40" y="300.93" width="8.6" height="2.2" fill="#ff00ff"/><circle cx="84.10" cy="300.31" r="3.5" fill="#ff00ff"/><rect x="79.80" y="299.21" width="8.6" height="2.2" fill="#ff00ff"/><circle cx="87.50" cy="296.90" r="3.5" fill="#ff00ff"/><rect x="83.20" y="295.80" width="8.6" height="2.2" fill="#ff00ff"/><circle cx="90.90" cy="291.21" r="3.5" fill="#ff00ff"/><rect x="86.60" y="290.11" width="8.6" height="2.2" fill="#ff00ff"/><circle cx="94.30" cy="284.63" r="3.5" fill="#ff00ff"/><rect x="90.00" y="283.53" width="8.6" height="2.2" fill="#ff00ff"/><circle cx="97.70" cy="276.64" r="3.5" fill="#ff00ff"/><rect x="93.40" y="275.54" width="8.6" height="2.2" fill="#ff00ff"/><circle cx="101.10" cy="268.34" r="3.5" fill="#ff00ff"/><rect x="96.80" y="267.24" width="8.6" height="2.2" fill="#ff00ff"/><circle cx="104.50" cy="260.16" r="3.5" fill="#ff00ff"/><rect x="100.20" y="259.06" width="8.6" height="2.2" fill="#ff00ff"/><circle cx="107.90" cy="251.86" r="3.5" fill="#ff00ff"/><rect x="103.60" y="250.76" width="8.6" height="2.2" fill="#ff00ff"/><circle cx="111.30" cy="243.87" r="3.5" fill="#ff00ff"/><rect x="107.00" y="242.77" width="8.6" height="2.2" fill="#ff00ff"/><circle cx="114.70" cy="235.69" r="3.5" fill="#ff00ff"/><rect x="110.40" y="234.59" width="8.6" height="2.2" fill="#ff00ff"/><circle cx="118.10" cy="227.90" r="3.5" fill="#ff00ff"/><rect x="113.80" y="226.80" width="8.6" height="2.2" fill="#ff00ff"/><circle cx="121.50" cy="220.03" r="3.5" fill="#ff00ff"/><rect x="117.20" y="218.93" width="8.6" height="2.2" fill="#ff00ff"/><circle cx="124.90" cy="213.31" r="3.5" fill="#ff00ff"/><rect x="120.60" y="212.21" width="8.6" height="2.2" fill="#ff00ff"/><circle cx="128.30" cy="206.04" r="3.5" fill="#ff00ff"/><rect x="124.00" y="204.94" width="8.6" height="2.2" fill="#ff00ff"/><circle cx="131.70" cy="199.14" r="3.5" fill="#ff00ff"/><rect x="127.40" y="198.04" width="8.6" height="2.2" fill="#ff00ff"/><circle cx="135.10" cy="192.76" r="3.5" fill="#ff00ff"/><rect x="130.80" y="191.66" width="8.6" height="2.2" fill="#ff00ff"/><circle cx="138.50" cy="186.26" r="3.5" fill="#ff00ff"/><rect x="134.20" y="185.16" width="8.6" height="2.2" fill="#ff00ff"/><circle cx="141.90" cy="180.28" r="3.5" fill="#ff00ff"/><rect x="137.60" y="179.18" width="8.6" height="2.2" fill="#ff00ff"/><circle cx="145.30" cy="173.78" r="3.5" fill="#ff00ff"/><rect x="141.00" y="172.68" width="8.6" height="2.2" fill="#ff00ff"/><circle cx="148.70" cy="167.67" r="3.5" fill="#ff00ff"/><rect x="144.40" y="166.57" width="8.6" height="2.2" fill="#ff00ff"/><circle cx="152.10" cy="161.74" r="3.5" fill="#ff00ff"/><rect x="147.80" y="160.64" width="8.6" height="2.2" fill="#ff00ff"/><circle cx="155.50" cy="156.06" r="3.5" fill="#ff00ff"/><rect x="151.20" y="154.96" width="8.6" height="2.2" fill="#ff00ff"/><circle cx="158.90" cy="150.73" r="3.5" fill="#ff00ff"/><rect x="154.60" y="149.63" width="8.6" height="2.2" fill="#ff00ff"/><circle cx="162.30" cy="145.74" r="3.5" fill="#ff00ff"/><rect x="158.00" y="144.64" width="8.6" height="2.2" fill="#ff00ff"/><circle cx="165.70" cy="141.05" r="3.5" fill="#ff00ff"/><rect x="161.40" y="139.95" width="8.6" height="2.2" fill="#ff00ff"/><circle cx="169.10" cy="136.71" r="3.5" fill="#ff00ff"/><rect x="164.80" y="135.61" width="8.6" height="2.2" fill="#ff00ff"/><circle cx="172.50" cy="132.76" r="3.5" fill="#ff00ff"/><rect x="168.20" y="131.66" width="8.6" height="2.2" fill="#ff00ff"/><circle cx="175.90" cy="129.12" r="3.5" fill="#ff00ff"/><rect x="171.60" y="128.02" width="8.6" height="2.2" fill="#ff00ff"/><circle cx="179.30" cy="125.68" r="3.5" fill="#ff00ff"/><rect x="175.00" y="124.58" width="8.6" height="2.2" fill="#ff00ff"/><circle cx="182.70" cy="122.39" r="3.5" fill="#ff00ff"/><rect x="178.40" y="121.29" width="8.6" height="2.2" fill="#ff00ff"/><circle cx="186.10" cy="119.31" r="3.5" fill="#ff00ff"/><rect x="181.80" y="118.21" width="8.6" height="2.2" fill="#ff00ff"/><circle cx="189.50" cy="116.20" r="3.5" fill="#ff00ff"/><rect x="185.20" y="115.10" width="8.6" height="2.2" fill="#ff00ff"/><circle cx="192.90" cy="112.75" r="3.5" fill="#ff00ff"/><rect x="188.60" y="111.65" width="8.6" height="2.2" fill="#ff00ff"/><circle cx="196.30" cy="108.98" r="3.5" fill="#ff00ff"/><rect x="192.00" y="107.88" width="8.6" height="2.2" fill="#ff00ff"/><circle cx="199.70" cy="105.53" r="3.5" fill="#ff00ff"/><rect x="195.40" y="104.43" width="8.6" height="2.2" fill="#ff00ff"/><circle cx="203.10" cy="102.70" r="3.5" fill="#ff00ff"/><rect x="198.80" y="101.60" width="8.6" height="2.2" fill="#ff00ff"/><circle cx="206.50" cy="100.16" r="3.5" fill="#ff00ff"/><rect x="202.20" y="99.06" width="8.6" height="2.2" fill="#ff00ff"/><circle cx="209.90" cy="97.77" r="3.5" fill="#ff00ff"/><rect x="205.60" y="96.67" width="8.6" height="2.2" fill="#ff00ff"/><circle cx="213.30" cy="95.40" r="3.5" fill="#ff00ff"/><rect x="209.00" y="94.30" width="8.6" height="2.2" fill="#ff00ff"/><circle cx="216.70" cy="93.12" r="3.5" fill="#ff00ff"/><rect x="212.40" y="92.02" width="8.6" height="2.2" fill="#ff00ff"/><circle cx="220.10" cy="90.91" r="3.5" fill="#ff00ff"/><rect x="215.80" y="89.81" width="8.6" height="2.2" fill="#ff00ff"/><circle cx="223.50" cy="88.67" r="3.5" fill="#ff00ff"/><rect x="219.20" y="87.57" width="8.6" height="2.2" fill="#ff00ff"/><circle cx="230.58" cy="83.95" r="3.5" fill="#ff00ff"/><rect x="226.28" y="82.85" width="8.6" height="2.2" fill="#ff00ff"/><circle cx="237.67" cy="79.79" r="3.5" fill="#ff00ff"/><rect x="233.37" y="78.69" width="8.6" height="2.2" fill="#ff00ff"/><circle cx="244.75" cy="76.22" r="3.5" fill="#ff00ff"/><rect x="240.45" y="75.12" width="8.6" height="2.2" fill="#ff00ff"/><circle cx="251.83" cy="73.21" r="3.5" fill="#ff00ff"/><rect x="247.53" y="72.11" width="8.6" height="2.2" fill="#ff00ff"/><circle cx="258.92" cy="70.52" r="3.5" fill="#ff00ff"/><rect x="254.62" y="69.42" width="8.6" height="2.2" fill="#ff00ff"/><circle cx="266.00" cy="68.03" r="3.5" fill="#ff00ff"/><rect x="261.70" y="66.93" width="8.6" height="2.2" fill="#ff00ff"/><circle cx="273.08" cy="65.06" r="3.5" fill="#ff00ff"/><rect x="268.78" y="63.96" width="8.6" height="2.2" fill="#ff00ff"/><circle cx="280.17" cy="62.53" r="3.5" fill="#ff00ff"/><rect x="275.87" y="61.43" width="8.6" height="2.2" fill="#ff00ff"/><circle cx="287.25" cy="60.25" r="3.5" fill="#ff00ff"/><rect x="282.95" y="59.15" width="8.6" height="2.2" fill="#ff00ff"/><circle cx="294.33" cy="58.04" r="3.5" fill="#ff00ff"/><rect x="290.03" y="56.94" width="8.6" height="2.2" fill="#ff00ff"/><circle cx="301.42" cy="55.75" r="3.5" fill="#ff00ff"/><rect x="297.12" y="54.65" width="8.6" height="2.2" fill="#ff00ff"/><circle cx="308.50" cy="53.75" r="3.5" fill="#ff00ff"/><rect x="304.20" y="52.65" width="8.6" height="2.2" fill="#ff00ff"/><circle cx="315.58" cy="52.00" r="3.5" fill="#ff00ff"/><rect x="311.28" y="50.90" width="8.6" height="2.2" fill="#ff00ff"/><circle cx="322.67" cy="50.26" r="3.5" fill="#ff00ff"/><rect x="318.37" y="49.16" width="8.6" height="2.2" fill="#ff00ff"/><circle cx="329.75" cy="48.74" r="3.5" fill="#ff00ff"/><rect x="325.45" y="47.64" width="8.6" height="2.2" fill="#ff00ff"/><circle cx="336.83" cy="47.45" r="3.5" fill="#ff00ff"/><rect x="332.53" y="46.35" width="8.6" height="2.2" fill="#ff00ff"/><circle cx="343.92" cy="46.25" r="3.5" fill="#ff00ff"/><rect x="339.62" y="45.15" width="8.6" height="2.2" fill="#ff00ff"/><circle cx="351.00" cy="44.96" r="3.5" fill="#ff00ff"/><rect x="346.70" y="43.86" width="8.6" height="2.2" fill="#ff00ff"/><circle cx="358.08" cy="43.96" r="3.5" fill="#ff00ff"/><rect x="353.78" y="42.86" width="8.6" height="2.2" fill="#ff00ff"/><circle cx="365.17" cy="42.76" r="3.5" fill="#ff00ff"/><rect x="360.87" y="41.66" width="8.6" height="2.2" fill="#ff00ff"/><circle cx="372.25" cy="41.76" r="3.5" fill="#ff00ff"/><rect x="367.95" y="40.66" width="8.6" height="2.2" fill="#ff00ff"/><circle cx="379.33" cy="40.76" r="3.5" fill="#ff00ff"/><rect x="375.03" y="39.66" width="8.6" height="2.2" fill="#ff00ff"/><circle cx="386.42" cy="39.75" r="3.5" fill="#ff00ff"/><rect x="382.12" y="38.65" width="8.6" height="2.2" fill="#ff00ff"/><circle cx="393.50" cy="38.78" r="3.5" fill="#ff00ff"/><rect x="389.20" y="37.68" width="8.6" height="2.2" fill="#ff00ff"/><path fill="#ff0000" d="M60.30 298.70L63.70 304.60H56.90z"/><rect x="55.40" y="301.50" width="9.8" height="2.2" fill="#ff0000"/><path fill="#ff0000" d="M77.30 298.70L80.70 304.60H73.90z"/><rect x="72.40" y="301.50" width="9.8" height="2.2" fill="#ff0000"/><path fill="#ff0000" d="M87.50 298.70L90.90 304.60H84.10z"/><rect x="82.60" y="301.50" width="9.8" height="2.2" fill="#ff0000"/><path fill="#ff0000" d="M90.90 298.64L94.30 304.54H87.50z"/><rect x="86.00" y="301.44" width="9.8" height="2.2" fill="#ff0000"/><path fill="#ff0000" d="M94.30 298.50L97.70 304.40H90.90z"/><rect x="89.40" y="301.30" width="9.8" height="2.2" fill="#ff0000"/><path fill="#ff0000" d="M97.70 298.27L101.10 304.17H94.30z"/><rect x="92.80" y="301.07" width="9.8" height="2.2" fill="#ff0000"/><path fill="#ff0000" d="M101.10 297.74L104.50 303.64H97.70z"/><rect x="96.20" y="300.54" width="9.8" height="2.2" fill="#ff0000"/><path fill="#ff0000" d="M104.50 297.06L107.90 302.96H101.10z"/><rect x="99.60" y="299.86" width="9.8" height="2.2" fill="#ff0000"/><path fill="#ff0000" d="M107.90 296.22L111.30 302.12H104.50z"/><rect x="103.00" y="299.02" width="9.8" height="2.2" fill="#ff0000"/><path fill="#ff0000" d="M111.30 295.17L114.70 301.07H107.90z"/><rect x="106.40" y="297.97" width="9.8" height="2.2" fill="#ff0000"/><path fill="#ff0000" d="M114.70 294.01L118.10 299.91H111.30z"/><rect x="109.80" y="296.81" width="9.8" height="2.2" fill="#ff0000"/><path fill="#ff0000" d="M118.10 292.75L121.50 298.65H114.70z"/><rect x="113.20" y="295.55" width="9.8" height="2.2" fill="#ff0000"/><path fill="#ff0000" d="M121.50 291.33L124.90 297.23H118.10z"/><rect x="116.60" y="294.13" width="9.8" height="2.2" fill="#ff0000"/><path fill="#ff0000" d="M124.90 289.69L128.30 295.59H121.50z"/><rect x="120.00" y="292.49" width="9.8" height="2.2" fill="#ff0000"/><path fill="#ff0000" d="M128.30 287.72L131.70 293.62H124.90z"/><rect x="123.40" y="290.52" width="9.8" height="2.2" fill="#ff0000"/><path fill="#ff0000" d="M131.70 285.35L135.10 291.25H128.30z"/><rect x="126.80" y="288.15" width="9.8" height="2.2" fill="#ff0000"/><path fill="#ff0000" d="M135.10 282.76L138.50 288.66H131.70z"/><rect x="130.20" y="285.56" width="9.8" height="2.2" fill="#ff0000"/><path fill="#ff0000" d="M138.50 280.02L141.90 285.92H135.10z"/><rect x="133.60" y="282.82" width="9.8" height="2.2" fill="#ff0000"/><path fill="#ff0000" d="M141.90 277.02L145.30 282.92H138.50z"/><rect x="137.00" y="279.82" width="9.8" height="2.2" fill="#ff0000"/><path fill="#ff0000" d="M145.30 273.93L148.70 279.83H141.90z"/><rect x="140.40" y="276.73" width="9.8" height="2.2" fill="#ff0000"/><path fill="#ff0000" d="M148.70 270.92L152.10 276.82H145.30z"/><rect x="143.80" y="273.72" width="9.8" height="2.2" fill="#ff0000"/><path fill="#ff0000" d="M152.10 267.86L155.50 273.76H148.70z"/><rect x="147.20" y="270.66" width="9.8" height="2.2" fill="#ff0000"/><path fill="#ff0000" d="M155.50 264.53L158.90 270.43H152.10z"/><rect x="150.60" y="267.33" width="9.8" height="2.2" fill="#ff0000"/><path fill="#ff0000" d="M158.90 260.98L162.30 266.88H155.50z"/><rect x="154.00" y="263.78" width="9.8" height="2.2" fill="#ff0000"/><path fill="#ff0000" d="M162.30 257.33L165.70 263.23H158.90z"/><rect x="157.40" y="260.13" width="9.8" height="2.2" fill="#ff0000"/><path fill="#ff0000" d="M165.70 253.63L169.10 259.53H162.30z"/><rect x="160.80" y="256.43" width="9.8" height="2.2" fill="#ff0000"/><path fill="#ff0000" d="M169.10 249.85L172.50 255.75H165.70z"/><rect x="164.20" y="252.65" width="9.8" height="2.2" fill="#ff0000"/><path fill="#ff0000" d="M172.50 245.89L175.90 251.79H169.10z"/><rect x="167.60" y="248.69" width="9.8" height="2.2" fill="#ff0000"/><path fill="#ff0000" d="M175.90 241.68L179.30 247.58H172.50z"/><rect x="171.00" y="244.48" width="9.8" height="2.2" fill="#ff0000"/><path fill="#ff0000" d="M179.30 237.12L182.70 243.02H175.90z"/><rect x="174.40" y="239.92" width="9.8" height="2.2" fill="#ff0000"/><path fill="#ff0000" d="M182.70 232.43L186.10 238.33H179.30z"/><rect x="177.80" y="235.23" width="9.8" height="2.2" fill="#ff0000"/><path fill="#ff0000" d="M186.10 227.86L189.50 233.76H182.70z"/><rect x="181.20" y="230.66" width="9.8" height="2.2" fill="#ff0000"/><path fill="#ff0000" d="M189.50 223.38L192.90 229.28H186.10z"/><rect x="184.60" y="226.18" width="9.8" height="2.2" fill="#ff0000"/><path fill="#ff0000" d="M192.90 218.95L196.30 224.85H189.50z"/><rect x="188.00" y="221.75" width="9.8" height="2.2" fill="#ff0000"/><path fill="#ff0000" d="M196.30 214.59L199.70 220.49H192.90z"/><rect x="191.40" y="217.39" width="9.8" height="2.2" fill="#ff0000"/><path fill="#ff0000" d="M199.70 210.36L203.10 216.26H196.30z"/><rect x="194.80" y="213.16" width="9.8" height="2.2" fill="#ff0000"/><path fill="#ff0000" d="M203.10 206.24L206.50 212.14H199.70z"/><rect x="198.20" y="209.04" width="9.8" height="2.2" fill="#ff0000"/><path fill="#ff0000" d="M206.50 202.20L209.90 208.10H203.10z"/><rect x="201.60" y="205.00" width="9.8" height="2.2" fill="#ff0000"/><path fill="#ff0000" d="M209.90 198.28L213.30 204.18H206.50z"/><rect x="205.00" y="201.08" width="9.8" height="2.2" fill="#ff0000"/><path fill="#ff0000" d="M213.30 194.47L216.70 200.37H209.90z"/><rect x="208.40" y="197.27" width="9.8" height="2.2" fill="#ff0000"/><path fill="#ff0000" d="M216.70 190.79L220.10 196.69H213.30z"/><rect x="211.80" y="193.59" width="9.8" height="2.2" fill="#ff0000"/><path fill="#ff0000" d="M220.10 187.20L223.50 193.10H216.70z"/><rect x="215.20" y="190.00" width="9.8" height="2.2" fill="#ff0000"/><path fill="#ff0000" d="M223.50 183.66L226.90 189.56H220.10z"/><rect x="218.60" y="186.46" width="9.8" height="2.2" fill="#ff0000"/><path fill="#ff0000" d="M226.90 180.10L230.30 186.00H223.50z"/><rect x="222.00" y="182.90" width="9.8" height="2.2" fill="#ff0000"/><path fill="#ff0000" d="M230.30 176.52L233.70 182.42H226.90z"/><rect x="225.40" y="179.32" width="9.8" height="2.2" fill="#ff0000"/><path fill="#ff0000" d="M233.70 172.96L237.10 178.86H230.30z"/><rect x="228.80" y="175.76" width="9.8" height="2.2" fill="#ff0000"/><path fill="#ff0000" d="M237.10 169.47L240.50 175.37H233.70z"/><rect x="232.20" y="172.27" width="9.8" height="2.2" fill="#ff0000"/><path fill="#ff0000" d="M240.50 166.04L243.90 171.94H237.10z"/><rect x="235.60" y="168.84" width="9.8" height="2.2" fill="#ff0000"/><path fill="#ff0000" d="M243.90 162.66L247.30 168.56H240.50z"/><rect x="239.00" y="165.46" width="9.8" height="2.2" fill="#ff0000"/><path fill="#ff0000" d="M247.30 159.29L250.70 165.19H243.90z"/><rect x="242.40" y="162.09" width="9.8" height="2.2" fill="#ff0000"/><path fill="#ff0000" d="M250.70 155.91L254.10 161.81H247.30z"/><rect x="245.80" y="158.71" width="9.8" height="2.2" fill="#ff0000"/><path fill="#ff0000" d="M254.10 152.58L257.50 158.48H250.70z"/><rect x="249.20" y="155.38" width="9.8" height="2.2" fill="#ff0000"/><path fill="#ff0000" d="M257.50 149.41L260.90 155.31H254.10z"/><rect x="252.60" y="152.21" width="9.8" height="2.2" fill="#ff0000"/><path fill="#ff0000" d="M260.90 146.44L264.30 152.34H257.50z"/><rect x="256.00" y="149.24" width="9.8" height="2.2" fill="#ff0000"/><path fill="#ff0000" d="M264.30 143.64L267.70 149.54H260.90z"/><rect x="259.40" y="146.44" width="9.8" height="2.2" fill="#ff0000"/><path fill="#ff0000" d="M267.70 140.94L271.10 146.84H264.30z"/><rect x="262.80" y="143.74" width="9.8" height="2.2" fill="#ff0000"/><path fill="#ff0000" d="M271.10 138.31L274.50 144.21H267.70z"/><rect x="266.20" y="141.11" width="9.8" height="2.2" fill="#ff0000"/><path fill="#ff0000" d="M274.50 135.77L277.90 141.67H271.10z"/><rect x="269.60" y="138.57" width="9.8" height="2.2" fill="#ff0000"/><path fill="#ff0000" d="M277.90 133.24L281.30 139.14H274.50z"/><rect x="273.00" y="136.04" width="9.8" height="2.2" fill="#ff0000"/><path fill="#ff0000" d="M281.30 130.65L284.70 136.55H277.90z"/><rect x="276.40" y="133.45" width="9.8" height="2.2" fill="#ff0000"/><path fill="#ff0000" d="M284.70 127.95L288.10 133.85H281.30z"/><rect x="279.80" y="130.75" width="9.8" height="2.2" fill="#ff0000"/><path fill="#ff0000" d="M288.10 125.18L291.50 131.08H284.70z"/><rect x="283.20" y="127.98" width="9.8" height="2.2" fill="#ff0000"/><path fill="#ff0000" d="M291.50 122.44L294.90 128.34H288.10z"/><rect x="286.60" y="125.24" width="9.8" height="2.2" fill="#ff0000"/><path fill="#ff0000" d="M294.90 119.79L298.30 125.69H291.50z"/><rect x="290.00" y="122.59" width="9.8" height="2.2" fill="#ff0000"/><path d="M290.30 122.38h9.2M290.30 125.00h9.2M294.90 122.38v2.62" stroke="#ff0000" stroke-width="1.3" fill="none"/><path fill="#ff0000" d="M298.30 117.32L301.70 123.22H294.90z"/><rect x="293.40" y="120.12" width="9.8" height="2.2" fill="#ff0000"/><path d="M293.70 119.85h9.2M293.70 122.59h9.2M298.30 119.85v2.74" stroke="#ff0000" stroke-width="1.3" fill="none"/><path fill="#ff0000" d="M301.70 115.08L305.10 120.98H298.30z"/><rect x="296.80" y="117.88" width="9.8" height="2.2" fill="#ff0000"/><path d="M297.10 117.55h9.2M297.10 120.41h9.2M301.70 117.55v2.86" stroke="#ff0000" stroke-width="1.3" fill="none"/><path fill="#ff0000" d="M305.10 113.01L308.50 118.91H301.70z"/><rect x="300.20" y="115.81" width="9.8" height="2.2" fill="#ff0000"/><path d="M300.50 115.42h9.2M300.50 118.40h9.2M305.10 115.42v2.98" stroke="#ff0000" stroke-width="1.3" fill="none"/><path fill="#ff0000" d="M308.50 111.06L311.90 116.96H305.10z"/><rect x="303.60" y="113.86" width="9.8" height="2.2" fill="#ff0000"/><path d="M303.90 113.41h9.2M303.90 116.51h9.2M308.50 113.41v3.10" stroke="#ff0000" stroke-width="1.3" fill="none"/><path fill="#ff0000" d="M311.90 109.19L315.30 115.09H308.50z"/><rect x="307.00" y="111.99" width="9.8" height="2.2" fill="#ff0000"/><path d="M307.30 111.48h9.2M307.30 114.70h9.2M311.90 111.48v3.22" stroke="#ff0000" stroke-width="1.3" fill="none"/><path fill="#ff0000" d="M315.30 107.38L318.70 113.28H311.90z"/><rect x="310.40" y="110.18" width="9.8" height="2.2" fill="#ff0000"/><path d="M310.70 109.61h9.2M310.70 112.95h9.2M315.30 109.61v3.34" stroke="#ff0000" stroke-width="1.3" fill="none"/><path fill="#ff0000" d="M318.70 105.60L322.10 111.50H315.30z"/><rect x="313.80" y="108.40" width="9.8" height="2.2" fill="#ff0000"/><path d="M314.10 107.77h9.2M314.10 111.23h9.2M318.70 107.77v3.46" stroke="#ff0000" stroke-width="1.3" fill="none"/><path fill="#ff0000" d="M322.10 103.85L325.50 109.75H318.70z"/><rect x="317.20" y="106.65" width="9.8" height="2.2" fill="#ff0000"/><path d="M317.50 105.96h9.2M317.50 109.54h9.2M322.10 105.96v3.58" stroke="#ff0000" stroke-width="1.3" fill="none"/><path fill="#ff0000" d="M325.50 102.13L328.90 108.03H322.10z"/><rect x="320.60" y="104.93" width="9.8" height="2.2" fill="#ff0000"/><path d="M320.90 104.18h9.2M320.90 107.88h9.2M325.50 104.18v3.70" stroke="#ff0000" stroke-width="1.3" fill="none"/><path fill="#ff0000" d="M328.90 100.46L332.30 106.36H325.50z"/><rect x="324.00" y="103.26" width="9.8" height="2.2" fill="#ff0000"/><path d="M324.30 102.45h9.2M324.30 106.27h9.2M328.90 102.45v3.82" stroke="#ff0000" stroke-width="1.3" fill="none"/><path fill="#ff0000" d="M332.30 98.83L335.70 104.73H328.90z"/><rect x="327.40" y="101.63" width="9.8" height="2.2" fill="#ff0000"/><path d="M327.70 100.76h9.2M327.70 104.70h9.2M332.30 100.76v3.94" stroke="#ff0000" stroke-width="1.3" fill="none"/><path fill="#ff0000" d="M335.70 97.24L339.10 103.14H332.30z"/><rect x="330.80" y="100.04" width="9.8" height="2.2" fill="#ff0000"/><path d="M331.10 99.11h9.2M331.10 103.17h9.2M335.70 99.11v4.06" stroke="#ff0000" stroke-width="1.3" fill="none"/><path fill="#ff0000" d="M339.10 95.71L342.50 101.61H335.70z"/><rect x="334.20" y="98.51" width="9.8" height="2.2" fill="#ff0000"/><path d="M334.50 97.52h9.2M334.50 101.70h9.2M339.10 97.52v4.18" stroke="#ff0000" stroke-width="1.3" fill="none"/><path fill="#ff0000" d="M342.50 94.22L345.90 100.12H339.10z"/><rect x="337.60" y="97.02" width="9.8" height="2.2" fill="#ff0000"/><path d="M337.90 95.97h9.2M337.90 100.27h9.2M342.50 95.97v4.30" stroke="#ff0000" stroke-width="1.3" fill="none"/><path fill="#ff0000" d="M345.90 92.79L349.30 98.69H342.50z"/><rect x="341.00" y="95.59" width="9.8" height="2.2" fill="#ff0000"/><path d="M341.30 94.48h9.2M341.30 98.90h9.2M345.90 94.48v4.42" stroke="#ff0000" stroke-width="1.3" fill="none"/><path fill="#ff0000" d="M349.30 91.39L352.70 97.29H345.90z"/><rect x="344.40" y="94.19" width="9.8" height="2.2" fill="#ff0000"/><path d="M344.70 93.02h9.2M344.70 97.56h9.2M349.30 93.02v4.54" stroke="#ff0000" stroke-width="1.3" fill="none"/><path fill="#ff0000" d="M352.70 90.02L356.10 95.92H349.30z"/><rect x="347.80" y="92.82" width="9.8" height="2.2" fill="#ff0000"/><path d="M348.10 91.62h9.2M348.10 96.22h9.2M352.70 91.62v4.60" stroke="#ff0000" stroke-width="1.3" fill="none"/><path fill="#ff0000" d="M356.10 88.68L359.50 94.58H352.70z"/><rect x="351.20" y="91.48" width="9.8" height="2.2" fill="#ff0000"/><path d="M351.50 90.28h9.2M351.50 94.88h9.2M356.10 90.28v4.60" stroke="#ff0000" stroke-width="1.3" fill="none"/><path fill="#ff0000" d="M359.50 87.35L362.90 93.25H356.10z"/><rect x="354.60" y="90.15" width="9.8" height="2.2" fill="#ff0000"/><path d="M354.90 88.95h9.2M354.90 93.55h9.2M359.50 88.95v4.60" stroke="#ff0000" stroke-width="1.3" fill="none"/><path fill="#ff0000" d="M362.90 86.04L366.30 91.94H359.50z"/><rect x="358.00" y="88.84" width="9.8" height="2.2" fill="#ff0000"/><path d="M358.30 87.64h9.2M358.30 92.24h9.2M362.90 87.64v4.60" stroke="#ff0000" stroke-width="1.3" fill="none"/><path fill="#ff0000" d="M366.30 84.76L369.70 90.66H362.90z"/><rect x="361.40" y="87.56" width="9.8" height="2.2" fill="#ff0000"/><path d="M361.70 86.36h9.2M361.70 90.96h9.2M366.30 86.36v4.60" stroke="#ff0000" stroke-width="1.3" fill="none"/><path fill="#ff0000" d="M369.70 83.49L373.10 89.39H366.30z"/><rect x="364.80" y="86.29" width="9.8" height="2.2" fill="#ff0000"/><path d="M365.10 85.09h9.2M365.10 89.69h9.2M369.70 85.09v4.60" stroke="#ff0000" stroke-width="1.3" fill="none"/><path fill="#ff0000" d="M373.10 82.26L376.50 88.16H369.70z"/><rect x="368.20" y="85.06" width="9.8" height="2.2" fill="#ff0000"/><path d="M368.50 83.86h9.2M368.50 88.46h9.2M373.10 83.86v4.60" stroke="#ff0000" stroke-width="1.3" fill="none"/><path fill="#ff0000" d="M376.50 81.05L379.90 86.95H373.10z"/><rect x="371.60" y="83.85" width="9.8" height="2.2" fill="#ff0000"/><path d="M371.90 82.65h9.2M371.90 87.25h9.2M376.50 82.65v4.60" stroke="#ff0000" stroke-width="1.3" fill="none"/><path fill="#ff0000" d="M379.90 79.87L383.30 85.77H376.50z"/><rect x="375.00" y="82.67" width="9.8" height="2.2" fill="#ff0000"/><path d="M375.30 81.47h9.2M375.30 86.07h9.2M379.90 81.47v4.60" stroke="#ff0000" stroke-width="1.3" fill="none"/><path fill="#ff0000" d="M383.30 78.72L386.70 84.62H379.90z"/><rect x="378.40" y="81.52" width="9.8" height="2.2" fill="#ff0000"/><path d="M378.70 80.32h9.2M378.70 84.92h9.2M383.30 80.32v4.60" stroke="#ff0000" stroke-width="1.3" fill="none"/><path fill="#ff0000" d="M386.70 77.61L390.10 83.51H383.30z"/><rect x="381.80" y="80.41" width="9.8" height="2.2" fill="#ff0000"/><path d="M382.10 79.21h9.2M382.10 83.81h9.2M386.70 79.21v4.60" stroke="#ff0000" stroke-width="1.3" fill="none"/><path fill="#ff0000" d="M390.10 76.52L393.50 82.42H386.70z"/><rect x="385.20" y="79.32" width="9.8" height="2.2" fill="#ff0000"/><path d="M385.50 78.12h9.2M385.50 82.72h9.2M390.10 78.12v4.60" stroke="#ff0000" stroke-width="1.3" fill="none"/><path fill="#ff0000" d="M393.50 75.46L396.90 81.36H390.10z"/><rect x="388.60" y="78.26" width="9.8" height="2.2" fill="#ff0000"/><path d="M388.90 77.06h9.2M388.90 81.66h9.2M393.50 77.06v4.60" stroke="#ff0000" stroke-width="1.3" fill="none"/></g>
<g><rect x="237.05" y="210.45" width="5.5" height="5.5" fill="none" stroke="#0000ff" stroke-width="1.2"/><circle cx="239.8" cy="232.5" r="3.1" fill="none" stroke="#ff00ff" stroke-width="1.3"/><rect x="236.60000000000002" y="248.3" width="6.4" height="6.4" fill="#0000ff"/><circle cx="239.8" cy="269.40000000000003" r="3.7" fill="#ff00ff"/><path fill="#ff0000" d="M239.8 283.5L243.4 290.2H236.20000000000002z"/></g>
<g><path d="M54 1.7V303.4M393.7 1.7V303.4" stroke="#000" stroke-width="1.6" fill="none"/><path d="M53.2 302.6H394.5" stroke="#000" stroke-width="1.6" fill="none"/><path d="M53.2 2.3H394.5" stroke="#000" stroke-width="1.15" fill="none"/><path d="M53.50 302.6v-8M53.50 2.0v8M70.50 302.6v-4M70.50 2.0v4M87.50 302.6v-4M87.50 2.0v4M104.50 302.6v-4M104.50 2.0v4M121.50 302.6v-4M121.50 2.0v4M138.50 302.6v-8M138.50 2.0v8M155.50 302.6v-4M155.50 2.0v4M172.50 302.6v-4M172.50 2.0v4M189.50 302.6v-4M189.50 2.0v4M206.50 302.6v-4M206.50 2.0v4M223.50 302.6v-8M223.50 2.0v8M240.50 302.6v-4M240.50 2.0v4M257.50 302.6v-4M257.50 2.0v4M274.50 302.6v-4M274.50 2.0v4M291.50 302.6v-4M291.50 2.0v4M308.50 302.6v-8M308.50 2.0v8M325.50 302.6v-4M325.50 2.0v4M342.50 302.6v-4M342.50 2.0v4M359.50 302.6v-4M359.50 2.0v4M376.50 302.6v-4M376.50 2.0v4M393.50 302.6v-8M393.50 2.0v8M53.5 302.60h8M394.0 302.60h-8M53.5 273.98h4M394.0 273.98h-4M53.5 245.36h8M394.0 245.36h-8M53.5 216.74h4M394.0 216.74h-4M53.5 188.12h8M394.0 188.12h-8M53.5 159.50h4M394.0 159.50h-4M53.5 130.88h8M394.0 130.88h-8M53.5 102.26h4M394.0 102.26h-4M53.5 73.64h8M394.0 73.64h-8M53.5 45.02h4M394.0 45.02h-4M53.5 16.40h8M394.0 16.40h-8" stroke="#000" stroke-width="1" fill="none"/></g>
<g><text x="50.6" y="309.60" text-anchor="end" font-size="18.3">0</text><text x="50.6" y="252.36" text-anchor="end" font-size="18.3">0.2</text><text x="50.6" y="195.12" text-anchor="end" font-size="18.3">0.4</text><text x="50.6" y="137.88" text-anchor="end" font-size="18.3">0.6</text><text x="50.6" y="80.64" text-anchor="end" font-size="18.3">0.8</text><text x="50.6" y="23.40" text-anchor="end" font-size="18.3">1</text><text x="54.10" y="319.6" text-anchor="middle" font-size="18">0</text><text x="139.10" y="319.6" text-anchor="middle" font-size="18">0.5</text><text x="224.10" y="319.6" text-anchor="middle" font-size="18">1</text><text x="309.10" y="319.6" text-anchor="middle" font-size="18">1.5</text><text x="394.10" y="319.6" text-anchor="middle" font-size="18">2</text><text x="66.3" y="33" font-size="23.6">(b)</text><text x="105.4" y="33" font-size="23.6" font-style="italic">J / J</text><text x="146.6" y="42.4" font-size="16" font-style="italic">D</text><text x="162.8" y="33" font-size="23.6">= 0.55</text><text x="201" y="337.6" font-size="20" font-style="italic">T / J</text><text x="236.6" y="345" font-size="14.5" font-style="italic">D</text><text transform="translate(13.3,173.6) rotate(-90)" font-size="19.4">sign</text><path d="M4 175.2L8.5 182.6L13 175.2M4 139.4L8.5 132L13 139.4" stroke="#000" stroke-width="1.5" fill="none" stroke-linejoin="miter"/><path d="M13 119.4h13.8M13 126.5h13.8" stroke="#000" stroke-width="1" fill="none"/><circle cx="19.8" cy="122.9" r="0.9" fill="#000"/><text x="255.6" y="216.5" font-size="16.5">spin QMC, <tspan font-style="italic">N</tspan>=36</text><text x="255.6" y="235.5" font-size="16.5">spin QMC, <tspan font-style="italic">N</tspan>=64</text><text x="255.6" y="255.1" font-size="16.5">dimer QMC, <tspan font-style="italic">N</tspan>=36</text><text x="255.6" y="273.5" font-size="16.5">dimer QMC, <tspan font-style="italic">N</tspan>=64</text><text x="255.6" y="291.3" font-size="16.5">dimer QMC, <tspan font-style="italic">N</tspan>=200</text></g>
</svg>
</body></html>
